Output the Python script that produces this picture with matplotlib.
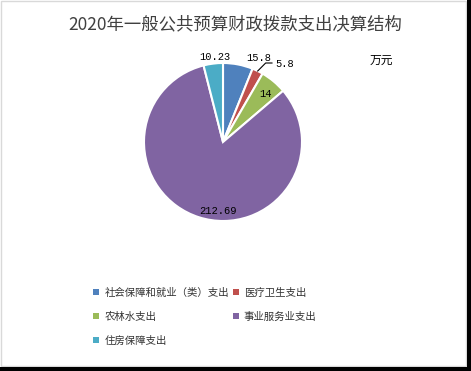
import numpy as np
import matplotlib.pyplot as plt
from matplotlib.patches import Rectangle, Patch

plt.rcParams['font.family'] = ['Noto Sans CJK SC', 'DejaVu Sans']

# 数据
categories = ["社会保障和就业（类）支出", "医疗卫生支出", "农林水支出", "事业服务业支出", "住房保障支出"]
values = [15.8, 5.8, 14, 212.69, 10.23]
value_labels = ["15.8", "5.8", "14", "212.69", "10.23"]
colors = ['#4F81BD', '#C0504D', '#9BBB59', '#8064A2', '#4BACC6']

W, H = 471, 371
fig = plt.figure(figsize=(W / 100, H / 100), dpi=100)

# 饼图区域: 中心 (223,142) 像素, 半径 79 像素
r_px = 79
lim = 1.3
cx, cy = 223, 142
size = 2 * lim * r_px
ax = fig.add_axes([(cx - size / 2) / W, (H - cy - size / 2) / H, size / W, size / H])
wedges, _ = ax.pie(values, colors=colors, startangle=90, counterclock=False,
                   wedgeprops=dict(edgecolor='white', linewidth=1.5))
ax.set_xlim(-lim, lim)
ax.set_ylim(-lim, lim)
ax.set_aspect('equal')
ax.axis('off')

# 数据标签位置 (角度, 半径)
label_pos = [(67, 1.16), None, (48, 0.81), (-94, 0.87), (95.4, 1.08)]
for i, w in enumerate(wedges):
    if label_pos[i] is None:
        # 引导线
        ang = np.deg2rad((w.theta1 + w.theta2) / 2)
        x0, y0 = np.cos(ang), np.sin(ang)
        ax.plot([x0, 0.54, 0.62], [y0, 1.0, 1.0], color='black', lw=0.8, clip_on=False)
        ax.text(0.66, 0.99, value_labels[i], ha='left', va='center',
                fontsize=7.5, family='Liberation Mono')
        continue
    a, r = label_pos[i]
    a = np.deg2rad(a)
    ax.text(r * np.cos(a), r * np.sin(a), value_labels[i], ha='center', va='center',
            fontsize=7.5, family='Liberation Mono')

fig.text(0.5, 1 - 24 / H, "2020年一般公共预算财政拨款支出决算结构", ha='center', va='center',
         fontsize=12.5, color='#404040')
fig.text(381 / W, 1 - 60 / H, "万元", ha='center', va='center', fontsize=8.5, color='black')

# 图例 (按行排列)
handles = [Patch(facecolor=c) for c in colors]
order = [0, 2, 4, 1, 3]
fig.legend([handles[i] for i in order], [categories[i] for i in order], ncol=2,
           loc='upper left', bbox_to_anchor=(84 / W, 1 - 278 / H), frameon=False,
           fontsize=7.5, handlelength=0.55, handleheight=0.55, handletextpad=0.5,
           columnspacing=0.4, labelspacing=1.35, labelcolor='#333333')

# 外框与阴影
fig.patches.append(Rectangle((0.5 / W, 0.5 / H + 5 / H), (W - 6) / W, (H - 6) / H,
                             transform=fig.transFigure, fill=False, edgecolor='#D9D9D9', lw=1))
fig.patches.append(Rectangle(((W - 4.5) / W, 0), 4.5 / W, 1, transform=fig.transFigure,
                             facecolor='black', edgecolor='none'))
fig.patches.append(Rectangle((0, 0), 1, 4.5 / H, transform=fig.transFigure,
                             facecolor='black', edgecolor='none'))

fig.savefig('out.png', dpi=100)
